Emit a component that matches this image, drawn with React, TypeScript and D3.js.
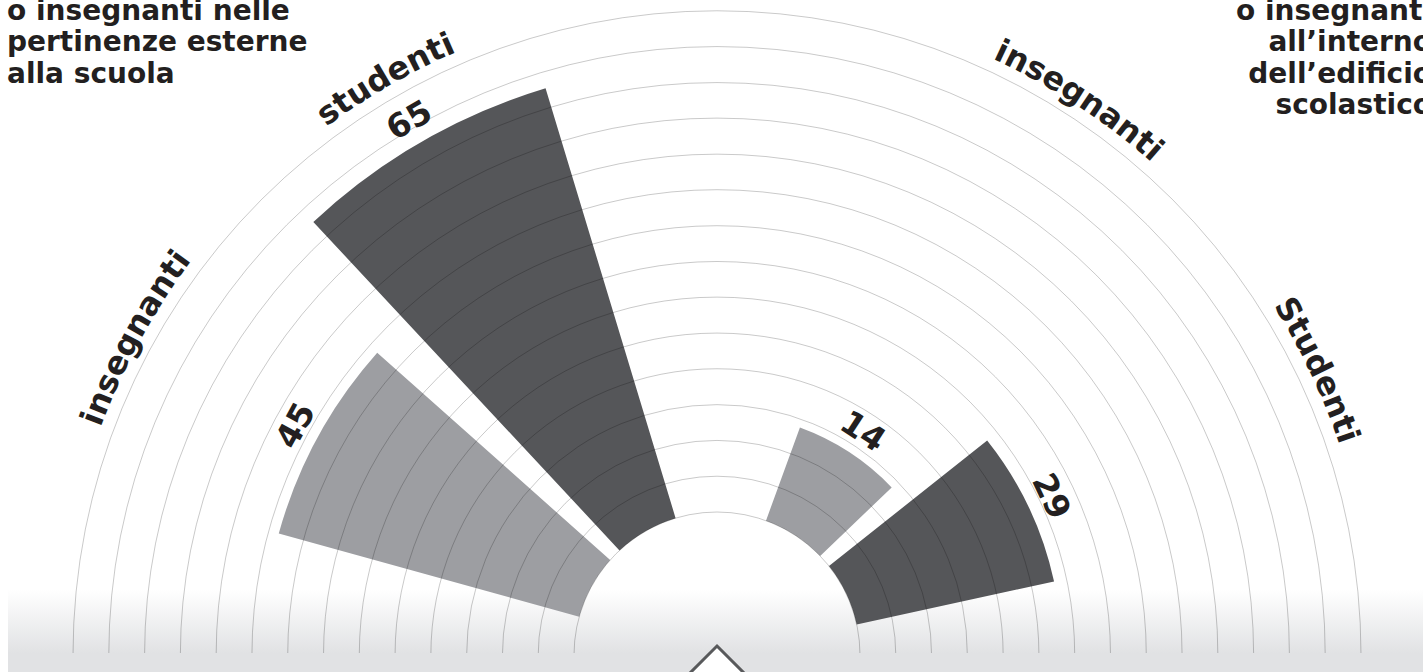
import React from "react";
import * as d3 from "d3";

const W = 1423;
const H = 672;

// angular slots (a spacer separates the two groups)
const slots = [
  "esterne-insegnanti",
  "esterne-studenti",
  "spazio",
  "interno-insegnanti",
  "interno-studenti",
];
const barKeys = [
  "esterne-insegnanti",
  "esterne-studenti",
  "interno-insegnanti",
  "interno-studenti",
];
const barLabels = ["insegnanti", "studenti", "insegnanti", "Studenti"];
const barSeries = ["insegnanti", "studenti", "insegnanti", "studenti"];
const barValues = [45, 65, 14, 29];
const seriesNames = ["insegnanti", "studenti"];
const seriesColors = ["#9d9ea2", "#555659"];
const ringCount = 15;

const titleLeft = ["o insegnanti nelle", "pertinenze esterne", "alla scuola"];
const titleRight = ["o insegnanti", "all\u2019interno", "dell\u2019edificio", "scolastico"];

const FONT = "'DejaVu Sans', sans-serif";
const INK = "#231f20";

export default function App() {
  const cx = 717;
  const cy = 655;
  const innerR = 143;
  const gridOuterR = 644;
  const labelR = 657;

  const angle = d3
    .scaleBand<string>()
    .domain(slots)
    .range([-74.5, 77.7])
    .paddingInner(0.17)
    .paddingOuter(0);
  const radius = d3.scaleLinear().domain([0, 65]).range([146, 592]);
  const ringScale = d3.scaleLinear().domain([0, ringCount - 1]).range([innerR, gridOuterR]);
  const color = d3.scaleOrdinal<string, string>().domain(seriesNames).range(seriesColors);
  const rad = (deg: number) => (deg * Math.PI) / 180;

  const arcGen = d3.arc<any>();

  const bars = barKeys.map((k, i) => {
    const a0 = angle(k) as number;
    const a1 = a0 + angle.bandwidth();
    const mid = (a0 + a1) / 2;
    const d = arcGen({
      innerRadius: innerR,
      outerRadius: radius(barValues[i]),
      startAngle: rad(a0),
      endAngle: rad(a1),
    }) as string;
    return { k, i, a0, a1, mid, d };
  });

  const rings = d3.range(ringCount).map((j) => {
    const R = ringScale(j);
    const p = d3.path();
    p.moveTo(cx - R, cy);
    p.arc(cx, cy, R, Math.PI, 2 * Math.PI);
    return p.toString();
  });

  const labelPaths = bars.map((b) => {
    const s0 = rad(b.mid - 60 - 90);
    const s1 = rad(b.mid + 60 - 90);
    const p = d3.path();
    p.moveTo(cx + labelR * Math.cos(s0), cy + labelR * Math.sin(s0));
    p.arc(cx, cy, labelR, s0, s1);
    return p.toString();
  });

  const apexY = 646;
  const half = 42;

  return (
    <svg
      width={W}
      height={H}
      viewBox={`0 0 ${W} ${H}`}
      style={{ position: "absolute", left: 0, top: 0, display: "block" }}
    >
      <defs>
        <linearGradient id="fade" x1="0" y1="0" x2="0" y2="1">
          <stop offset="0" stopColor="#ffffff" />
          <stop offset="1" stopColor="#e1e2e4" />
        </linearGradient>
        {labelPaths.map((d, i) => (
          <path key={i} id={`lp${i}`} d={d} fill="none" />
        ))}
      </defs>
      <rect x={0} y={0} width={W} height={H} fill="#ffffff" />
      <rect x={8} y={590} width={W - 8} height={63} fill="url(#fade)" />

      {bars.map((b) => (
        <path
          key={b.k}
          d={b.d}
          transform={`translate(${cx},${cy})`}
          fill={color(barSeries[b.i])}
        />
      ))}

      {rings.map((d, j) => (
        <path key={j} d={d} fill="none" stroke="#000" strokeOpacity={0.21} strokeWidth={1} />
      ))}

      <rect x={8} y={653} width={W - 8} height={H - 653} fill="#e1e2e4" />

      <polygon
        points={`${cx},${apexY} ${cx + half},${apexY + half} ${cx},${apexY + 2 * half} ${cx - half},${apexY + half}`}
        fill="#ffffff"
        stroke="#58595b"
        strokeWidth={3}
      />

      {bars.map((b) => {
        const rho = radius(barValues[b.i]) + 26;
        const x = cx + rho * Math.sin(rad(b.mid));
        const y = cy - rho * Math.cos(rad(b.mid));
        return (
          <text
            key={`v${b.k}`}
            transform={`translate(${x},${y}) rotate(${b.mid})`}
            textAnchor="middle"
            dy="0.36em"
            fontFamily={FONT}
            fontWeight={700}
            fontSize={33}
            fill={INK}
          >
            {barValues[b.i]}
          </text>
        );
      })}

      {bars.map((b, i) => (
        <text
          key={`l${b.k}`}
          fontFamily={FONT}
          fontWeight={700}
          fontSize={32}
          fill={INK}
        >
          <textPath href={`#lp${i}`} startOffset="50%" textAnchor="middle">
            {barLabels[b.i]}
          </textPath>
        </text>
      ))}

      {titleLeft.map((t, i) => (
        <text
          key={`tl${i}`}
          x={7}
          y={19.5 + i * 31.5}
          fontFamily={FONT}
          fontWeight={700}
          fontSize={28}
          fill={INK}
        >
          {t}
        </text>
      ))}
      {titleRight.map((t, i) => (
        <text
          key={`tr${i}`}
          x={1432}
          y={19.5 + i * 31.5}
          textAnchor="end"
          fontFamily={FONT}
          fontWeight={700}
          fontSize={28}
          fill={INK}
        >
          {t}
        </text>
      ))}
    </svg>
  );
}
